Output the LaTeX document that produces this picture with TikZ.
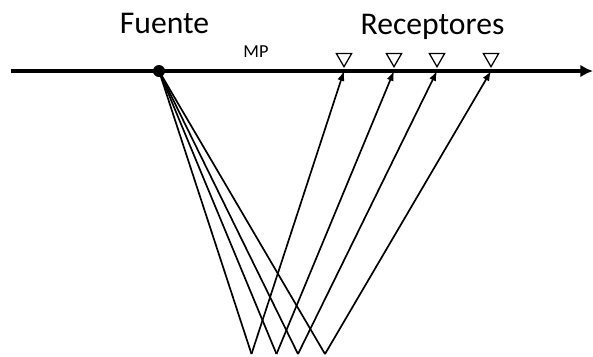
\documentclass[tikz,border=0pt]{standalone}
\usepackage{fontspec}
\setmainfont{Carlito}
\usetikzlibrary{positioning,arrows.meta,shapes.geometric}

\begin{document}
\begin{tikzpicture}[
    x=0.025cm, y=-0.025cm,
    surface/.style={line width=2.6pt, -{Latex[length=9pt, width=9pt]}},
    ray/.style={line width=1.2pt},
    upray/.style={ray, -{Latex[length=7pt, width=5.2pt]}},
    receptor/.style={regular polygon, regular polygon sides=3, shape border rotate=180, draw, line width=0.9pt, inner sep=0pt, minimum size=0.44cm, anchor=corner 1},
    heading/.style={font=\fontsize{22.5}{26}\selectfont, anchor=base, inner sep=0pt},
    tag/.style={font=\fontsize{13}{15}\selectfont, anchor=base, inner sep=0pt},
]
\useasboundingbox (0,0) rectangle (593,356);

% surface line and source
\coordinate (west) at (11,71);
\coordinate (east) at (593,71);
\draw[surface] (west) -- (east);
\node[circle, fill, inner sep=0pt, minimum size=0.3cm] (src) at (159,71) {};

% texts
\node[heading] (fuente) at (164.5,33) {Fuente};
\node[heading] (receptores) at (432.5,34) {Receptores};
\node[tag] (mp) at (256,57) {MP};

% receptors and rays
\foreach \i/\rx in {1/344,2/394,3/437,4/491} {
    \node[receptor] (r\i) at (\rx,68) {};
    \coordinate (g\i) at (\rx,71);
    \coordinate (b\i) at ({(159+\rx)/2},354);
    \draw[ray] (src.center) -- (b\i);
    \draw[upray] (b\i) -- (g\i);
}
\end{tikzpicture}
\end{document}
